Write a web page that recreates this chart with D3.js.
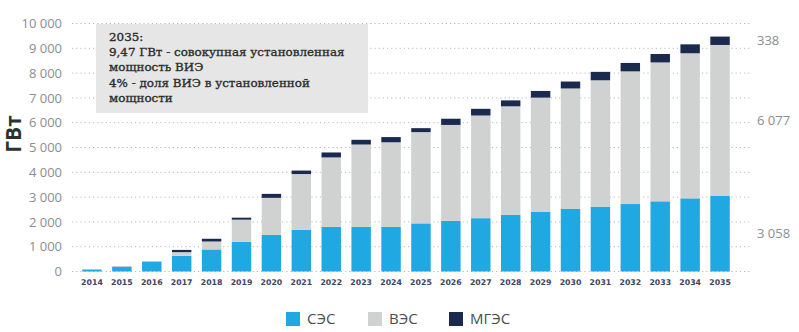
<!DOCTYPE html>
<html><head><meta charset="utf-8">
<script src="https://cdn.jsdelivr.net/npm/d3@7"></script>
<style>body{margin:0;background:#fff}svg{display:block}</style>
</head><body>
<svg id="c" width="799" height="332"></svg>
<script>
const years = ["2014","2015","2016","2017","2018","2019","2020","2021","2022","2023","2024","2025","2026","2027","2028","2029","2030","2031","2032","2033","2034","2035"];
const solar = [60,180,390,630,890,1200,1480,1680,1800,1800,1800,1940,2040,2150,2290,2400,2520,2610,2720,2830,2950,3058];
const wind  = [10,30,20,150,320,890,1490,2250,2800,3320,3410,3680,3870,4140,4370,4610,4860,5100,5350,5600,5850,6077];
const hydro = [10,5,5,90,110,80,160,140,200,190,210,160,250,270,240,270,280,340,340,340,360,338];
const seriesNames = ["СЭС","ВЭС","МГЭС"];
const seriesColors = ["#1fa8e2","#cfd2d1","#1a2a4f"];
const yTicks = [0,1000,2000,3000,4000,5000,6000,7000,8000,9000,10000];
const yTickLabels = ["0","1 000","2 000","3 000","4 000","5 000","6 000","7 000","8 000","9 000","10 000"];
const endLabels = ["3 058","6 077","338"];
const noteLines = ["2035:","9,47 ГВт - совокупная установленная","мощность ВИЭ","4% - доля ВИЭ в установленной","мощности"];
const yTitle = "ГВт";

const svg = d3.select("#c");
const x = d3.scaleBand().domain(years).range([77, 735]).paddingInner(0.35).paddingOuter(0.175);
const y = d3.scaleLinear().domain([0,10000]).range([271.5, 23.5]);

// gridlines
svg.append("g").selectAll("line").data(yTicks).join("line")
  .attr("x1",72).attr("x2",750)
  .attr("y1",d=>y(d)).attr("y2",d=>y(d))
  .attr("stroke","#b5b9bd").attr("stroke-width",1).attr("stroke-dasharray","1.2,3");

// y axis labels
const yAxis = d3.axisLeft(y).tickValues(yTicks).tickFormat((d,i)=>yTickLabels[i]).tickSize(0).tickPadding(0);
const gy = svg.append("g").attr("transform","translate(62,0)").call(yAxis);
gy.select(".domain").remove();
gy.selectAll("text").attr("font-family","Open Sans, sans-serif").attr("font-size",13).attr("fill","#8a8d91");

// y title
svg.append("text").attr("transform","translate(21,134) rotate(-90)")
  .attr("text-anchor","middle").attr("font-family","Open Sans, sans-serif")
  .attr("font-weight","bold").attr("font-size",21).attr("fill","#2d2f33").text(yTitle);

// stacked bars
const data = years.map((yr,i)=>({year:yr, s:solar[i], w:wind[i], h:hydro[i]}));
const stack = d3.stack().keys(["s","w","h"])(data);
svg.append("g").selectAll("g").data(stack).join("g")
  .attr("fill",(d,i)=>seriesColors[i])
  .selectAll("rect").data(d=>d).join("rect")
  .attr("x",d=>x(d.data.year)).attr("width",x.bandwidth())
  .attr("y",d=>y(d[1])).attr("height",d=>Math.max(0,y(d[0])-y(d[1])));

// x axis labels
const xAxis = d3.axisBottom(x).tickSize(0).tickPadding(0);
const gx = svg.append("g").attr("transform","translate(0,279)").call(xAxis);
gx.select(".domain").remove();
gx.selectAll("text").attr("font-family","DejaVu Sans, sans-serif").attr("font-weight","bold")
  .attr("font-size",7.8).attr("fill","#3a4560");

// end labels for last bar
const last = stack.map(s=>s[s.length-1]);
svg.append("g").selectAll("text").data(last).join("text")
  .attr("x",757).attr("y",d=>(y(d[0])+y(d[1]))/2).attr("dy","0.35em")
  .attr("font-family","Open Sans, sans-serif").attr("font-size",13).attr("fill","#8a8d91")
  .text((d,i)=>endLabels[i]);

// note box
svg.append("rect").attr("x",96).attr("y",24).attr("width",272).attr("height",89).attr("fill","#e6e6e6");
svg.append("g").selectAll("text").data(noteLines).join("text")
  .attr("x",109).attr("y",(d,i)=>41+i*15.2)
  .attr("font-family","DejaVu Serif, serif").attr("font-size",11.9).attr("fill","#2b2b2b")
  .attr("stroke","#2b2b2b").attr("stroke-width",0.35)
  .text(d=>d);

// legend
const legX = [286,368,449];
const lg = svg.append("g").selectAll("g").data(seriesNames).join("g")
  .attr("transform",(d,i)=>`translate(${legX[i]},312)`);
lg.append("rect").attr("width",14).attr("height",14).attr("fill",(d,i)=>seriesColors[i]);
lg.append("text").attr("x",21).attr("y",7).attr("dy","0.36em")
  .attr("font-family","Open Sans, sans-serif").attr("font-size",15).attr("fill","#4a4d52").text(d=>d);
</script>
</body></html>
